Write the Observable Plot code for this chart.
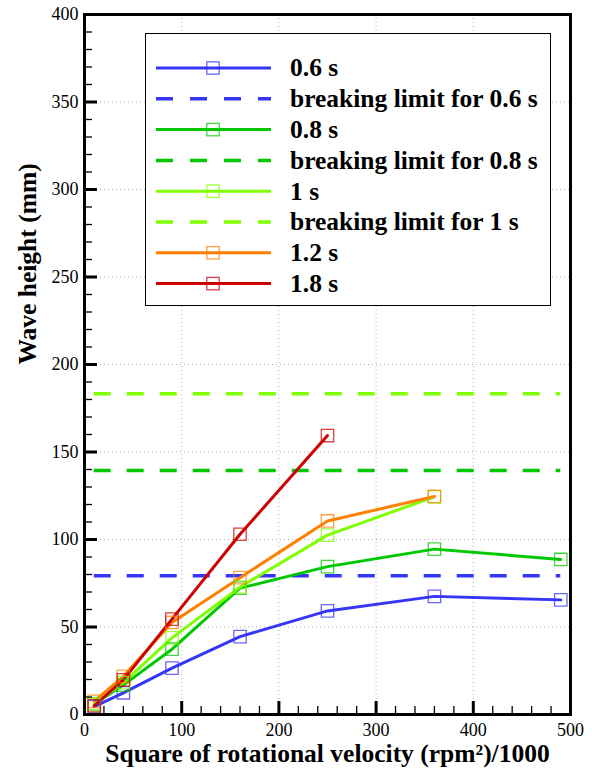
<!DOCTYPE html>
<html>
<head>
<meta charset="utf-8">
<script src="https://cdn.jsdelivr.net/npm/d3@7"></script>
<script src="https://cdn.jsdelivr.net/npm/@observablehq/plot@0.6"></script>
<style>
  body { margin: 0; background: #fff; }
  svg { display: block; }
</style>
</head>
<body>
<div id="chart"></div>
<script>
// Square of rotational velocity (rpm²/1000) at which wave heights were measured
const velocitySq = [10, 40, 90, 160, 250, 360, 490];

// Wave periods
const periods = ["0.6 s", "0.8 s", "1 s", "1.2 s", "1.8 s"];
const periodColors = ["#3636f6", "#00c800", "#80ff00", "#ff8000", "#cc0000"];

// Measured wave height (mm) per period
const height06 = [4.5, 12.4, 26.5, 44.5, 59.2, 67.5, 65.5];
const height08 = [6, 16.8, 37.3, 72.2, 84.5, 94.5, 88.6];
const height10 = [6, 18.2, 43.8, 72.8, 102.5, 124.4];
const height12 = [7.5, 21.8, 52.6, 78.2, 110.6, 124.6];
const height18 = [5, 19.8, 54.5, 103, 159.4];

// Breaking-wave height limits (mm)
const breakingPeriods = ["0.6 s", "0.8 s", "1 s"];
const breakingLimits = [79.3, 139.5, 183.3];

// Axis ticks
const xMajor = [0, 100, 200, 300, 400, 500];
const xMinor = d3.range(0, 501, 20).filter(v => v % 100 !== 0);
const yMajor = [0, 50, 100, 150, 200, 250, 300, 350, 400];
const yMinor = d3.range(0, 401, 10).filter(v => v % 50 !== 0);

const heights = [height06, height08, height10, height12, height18];
const rows = periods.flatMap((p, i) =>
  heights[i].map((h, j) => ({period: p, v: velocitySq[j], h}))
);
const limitRows = breakingPeriods.map((p, i) => ({period: p, limit: breakingLimits[i]}));

const W = 592, H = 769;
const mL = 84, mR = 22, mT = 14, mB = 55;
const plotW = W - mL - mR, plotH = H - mT - mB;
const serif = "'Liberation Serif', 'Times New Roman', serif";

const chart = Plot.plot({
  width: W,
  height: H,
  marginLeft: mL,
  marginRight: mR,
  marginTop: mT,
  marginBottom: mB,
  style: {fontFamily: serif, fontSize: "18px", color: "#000", background: "#fff", overflow: "visible"},
  x: {domain: [0, 500]},
  y: {domain: [0, 400]},
  color: {domain: periods, range: periodColors},
  marks: [
    Plot.gridX(xMajor.slice(1, -1), {stroke: "#b0b0b0", strokeOpacity: 1, strokeDasharray: "1,3"}),
    Plot.gridY(yMajor.slice(1, -1), {stroke: "#b0b0b0", strokeOpacity: 1, strokeDasharray: "1,3"}),
    Plot.ruleY(limitRows, {
      y: "limit",
      x1: velocitySq[0],
      x2: velocitySq[velocitySq.length - 1],
      stroke: "period",
      strokeWidth: 3.5,
      strokeDasharray: "17,16"
    }),
    Plot.line(rows, {x: "v", y: "h", z: "period", stroke: "period", strokeWidth: 3}),
    Plot.dot(rows, {
      x: "v", y: "h", stroke: "period", symbol: "square", r: 7,
      strokeWidth: 1.3, strokeOpacity: 0.75, fill: "none"
    }),
    // inward-pointing ticks on the left and bottom axes
    Plot.tickY(yMinor, {y: d => d, insetRight: plotW - 8, strokeWidth: 1.3}),
    Plot.tickY(yMajor, {y: d => d, insetRight: plotW - 13, strokeWidth: 3}),
    Plot.tickX(xMinor, {x: d => d, insetTop: plotH - 8, strokeWidth: 1.3}),
    Plot.tickX(xMajor, {x: d => d, insetTop: plotH - 13, strokeWidth: 3}),
    Plot.axisX(xMajor, {tickSize: 0, tickPadding: 9, label: null}),
    Plot.axisY(yMajor, {tickSize: 0, tickPadding: 6, label: null}),
    Plot.frame({strokeWidth: 3}),
    Plot.text(["Square of rotational velocity (rpm²)/1000"], {
      frameAnchor: "bottom", dy: 39, lineAnchor: "middle",
      fontSize: 25.5, fontWeight: "bold"
    }),
    Plot.text(["Wave height (mm)"], {
      frameAnchor: "left", dx: -57, rotate: -90, lineAnchor: "middle",
      fontSize: 25.5, fontWeight: "bold"
    })
  ]
});

// Legend box inside the plot area
const legendItems = [];
periods.forEach((p, i) => {
  legendItems.push({label: p, color: periodColors[i], dashed: false});
  const k = breakingPeriods.indexOf(p);
  if (k >= 0) legendItems.push({label: `breaking limit for ${p}`, color: periodColors[i], dashed: true});
});

const svg = d3.select(chart);
const lg = svg.append("g").attr("font-family", serif).attr("text-anchor", "start");
lg.append("rect")
  .attr("x", 145.5).attr("y", 33.5)
  .attr("width", 405).attr("height", 272)
  .attr("fill", "#fff").attr("stroke", "#000").attr("stroke-width", 1);
legendItems.forEach((it, i) => {
  const y = 68 + i * 30.8;
  lg.append("line")
    .attr("x1", 156).attr("x2", 271).attr("y1", y).attr("y2", y)
    .attr("stroke", it.color).attr("stroke-width", it.dashed ? 3.5 : 3)
    .attr("stroke-dasharray", it.dashed ? "17,17" : null);
  if (!it.dashed) {
    lg.append("rect")
      .attr("x", 213 - 6.2).attr("y", y - 6.2)
      .attr("width", 12.4).attr("height", 12.4)
      .attr("fill", "none").attr("stroke", it.color)
      .attr("stroke-width", 1.3).attr("stroke-opacity", 0.75);
  }
  lg.append("text")
    .attr("x", 290).attr("y", y).attr("dy", "0.33em")
    .attr("text-anchor", "start")
    .attr("font-size", 25.5).attr("font-weight", "bold")
    .text(it.label);
});

document.getElementById("chart").append(chart);
</script>
</body>
</html>
